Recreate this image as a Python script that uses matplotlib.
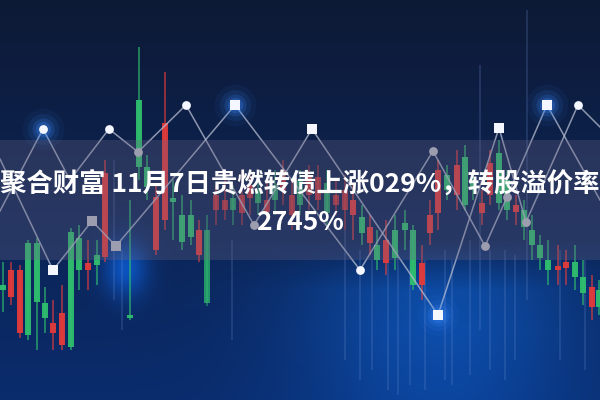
import numpy as np
import matplotlib
matplotlib.use("Agg")
import matplotlib.pyplot as plt
from matplotlib.patches import Rectangle

plt.rcParams['font.family'] = ['Noto Sans CJK SC', 'DejaVu Sans']

# ---------------- data ----------------
title_line1 = "聚合财富 11月7日贵燃转债上涨029%，转股溢价率"
title_line2 = "2745%"

# candlesticks (x, body top, body bottom, wick top, wick bottom, up?)
candle_x = [3, 11, 20, 28, 37, 45, 53, 62, 71, 79, 88, 97, 105, 130, 139, 147, 156, 165, 173, 182,
            191, 199, 207, 216, 225, 233, 242, 250, 258, 267, 275, 283, 292, 300, 309, 318, 327, 336,
            345, 353, 362, 370, 377, 386, 395, 405, 413, 422, 430, 438, 447, 457, 465, 473, 482, 490,
            499, 507, 516, 524, 532, 540, 548, 558, 566, 575, 583, 592, 599]
body_top = [285, 270, 270, 243, 243, 303, 323, 313, 232, 238, 263, 255, 173, 315, 100, 167, 197, 123, 198, 215,
            215, 230, 230, 195, 200, 198, 195, 185, 190, 200, 185, 170, 195, 180, 175, 177, 183, 195,
            190, 200, 217, 227, 245, 240, 230, 223, 230, 263, 215, 170, 175, 165, 157, 180, 203, 163,
            153, 180, 205, 210, 230, 245, 260, 266, 262, 262, 277, 287, 290]
body_bot = [290, 297, 333, 335, 302, 318, 333, 345, 347, 270, 270, 265, 257, 318, 167, 187, 250, 220, 202, 242,
            237, 255, 303, 210, 210, 210, 213, 198, 203, 212, 200, 190, 215, 205, 195, 200, 213, 205,
            210, 215, 233, 243, 260, 263, 258, 230, 285, 285, 233, 213, 190, 195, 205, 190, 213, 195,
            203, 210, 212, 227, 245, 258, 270, 270, 268, 277, 293, 307, 307]
wick_top = [262, 262, 265, 240, 238, 287, 300, 285, 228, 225, 240, 240, 160, 200, 47, 155, 185, 72, 180, 195,
            200, 220, 215, 185, 180, 185, 170, 170, 175, 180, 170, 160, 180, 170, 165, 165, 170, 180,
            175, 185, 205, 215, 230, 220, 215, 210, 225, 245, 200, 160, 165, 150, 145, 170, 190, 150,
            140, 170, 195, 200, 215, 235, 240, 245, 250, 245, 260, 275, 280]
wick_bot = [312, 305, 338, 340, 350, 333, 350, 350, 350, 290, 290, 285, 262, 320, 180, 200, 255, 230, 240, 250,
            245, 262, 306, 225, 220, 225, 225, 215, 215, 220, 215, 205, 230, 215, 210, 210, 225, 215,
            230, 240, 245, 255, 270, 275, 270, 250, 290, 300, 245, 230, 200, 210, 210, 200, 225, 205,
            210, 220, 225, 240, 260, 270, 285, 285, 285, 290, 305, 320, 315]
candle_up = ['g', 'r', 'r', 'g', 'g', 'g', 'r', 'r', 'g', 'g', 'r', 'g', 'r', 'g', 'g', 'g', 'r', 'r', 'g', 'g',
             'g', 'r', 'g', 'r', 'r', 'g', 'r', 'r', 'g', 'r', 'g', 'r', 'r', 'g', 'r', 'r', 'g', 'r',
             'r', 'r', 'g', 'r', 'g', 'r', 'g', 'g', 'g', 'r', 'r', 'r', 'g', 'r', 'g', 'g', 'r', 'r',
             'g', 'g', 'r', 'g', 'g', 'g', 'g', 'r', 'r', 'g', 'g', 'r', 'g']

# zigzag lines
lineA_x = [0, 43, 70, 109, 138, 186, 254, 312, 438, 499, 526, 578, 600]
lineA_y = [211, 129, 180, 129, 152, 105, 225, 129, 315, 128, 222, 105, 127]
lineB_x = [0, 53, 92, 116, 235, 360, 433, 485, 507, 547, 600]
lineB_y = [159, 270, 221, 246, 105, 270, 151, 246, 197, 105, 200]

# markers: x, y, shape, bright?, glow?
mk_x = [43, 109, 186, 138, 53, 92, 116, 235, 312, 254, 360, 433, 438, 485, 499, 507, 526, 547, 578]
mk_y = [129, 129, 105, 152, 270, 221, 246, 105, 129, 225, 270, 151, 315, 246, 128, 197, 222, 105, 105]
mk_shape = ['o', 'o', 'o', 'o', 's', 's', 's', 's', 's', 'o', 'o', 'o', 's', 'o', 's', 'o', 'o', 's', 'o']
mk_bright = [1, 1, 1, 0, 1, 0, 0, 1, 1, 0, 1, 0, 1, 0, 1, 0, 0, 1, 1]
mk_glow = [1, 0, 0, 0, 0, 0, 0, 1, 0, 0, 0, 0, 1, 0, 0, 0, 0, 1, 0]

# faint light streaks
streak_x = [114, 122, 232, 345, 360, 372, 388, 398, 410, 425, 445, 452, 470, 480, 490, 505, 515, 527, 560, 585]
streak_top = [160, 250, 240, 230, 250, 260, 255, 250, 240, 260, 250, 260, 240, 65, 250, 250, 255, 10, 250, 260]
streak_bot = [300, 330, 340, 360, 380, 370, 390, 395, 385, 390, 380, 385, 375, 330, 370, 380, 360, 300, 360, 370]

# ---------------- drawing ----------------
W, H = 600, 400
fig = plt.figure(figsize=(6, 4), dpi=100)
ax = fig.add_axes([0, 0, 1, 1])
ax.set_xlim(0, W)
ax.set_ylim(H, 0)
ax.axis('off')

# background gradient
yy, xx = np.mgrid[0:H, 0:W]
t = yy / H
r = 14 - 4 * t
g = 26 + 18 * t
b = 54 + 55 * t
lower = np.clip((yy - 240) / 50, 0, 1) * (1 - 0.3 * np.clip((yy - 330) / 70, 0, 1))
spot = np.exp(-((xx - 440) / 140.0) ** 2) * lower
r = r + 2 * spot
g = g + 36 * spot
b = b + 70 * spot
spot2 = np.exp(-((xx - 125) / 22.0) ** 2 - ((yy - 268) / 28.0) ** 2)
g = g + 45 * spot2
b = b + 100 * spot2
img = np.dstack([r, g, b]) / 255.0
ax.imshow(np.clip(img, 0, 1), extent=[0, W, H, 0], zorder=0, aspect='auto')

# streaks
for sx, st, sb in zip(streak_x, streak_top, streak_bot):
    ax.vlines(sx, st, sb, color='#6f8fd0', lw=1.2, alpha=0.25, zorder=1)

# candles
col = {'g': '#2fbf6e', 'r': '#e23b3b'}
for cx, bt, bb, wt, wb, c in zip(candle_x, body_top, body_bot, wick_top, wick_bot, candle_up):
    a = 0.72 if 200 <= cx <= 350 else 0.95
    ax.vlines(cx, wt, wb, color=col[c], lw=1.2, alpha=a * 0.75, zorder=2)
    ax.bar(cx, bb - bt, bottom=bt, width=6.5, color=col[c], alpha=a, zorder=2)

# zigzag lines
ax.plot(lineA_x, lineA_y, color='#b9bfd2', lw=1.1, alpha=0.75, zorder=3)
ax.plot(lineB_x, lineB_y, color='#b9bfd2', lw=1.1, alpha=0.75, zorder=3)

# glows
for x, y, gl in zip(mk_x, mk_y, mk_glow):
    if gl:
        for s, a in [(900, 0.06), (500, 0.1), (250, 0.18), (120, 0.25)]:
            ax.scatter(x, y, s=s, color='#3a8cff', alpha=a, lw=0, zorder=3)

# markers
for x, y, shp, br in zip(mk_x, mk_y, mk_shape, mk_bright):
    fc = '#f4f7ff' if br else '#b3b6c0'
    ax.scatter(x, y, s=45 if shp == 's' else 40, marker=shp, color=fc, lw=0, zorder=4)

# translucent band
ax.add_patch(Rectangle((0, 140), W, 120, facecolor='#6a6585', alpha=0.3, lw=0, zorder=5))

# title
ax.text(300, 184, title_line1, ha='center', va='center', color='white', fontsize=19,
        fontweight='bold', zorder=6)
ax.text(300, 223, title_line2, ha='center', va='center', color='white', fontsize=19,
        fontweight='bold', zorder=6)

fig.savefig('out.png', dpi=100)
